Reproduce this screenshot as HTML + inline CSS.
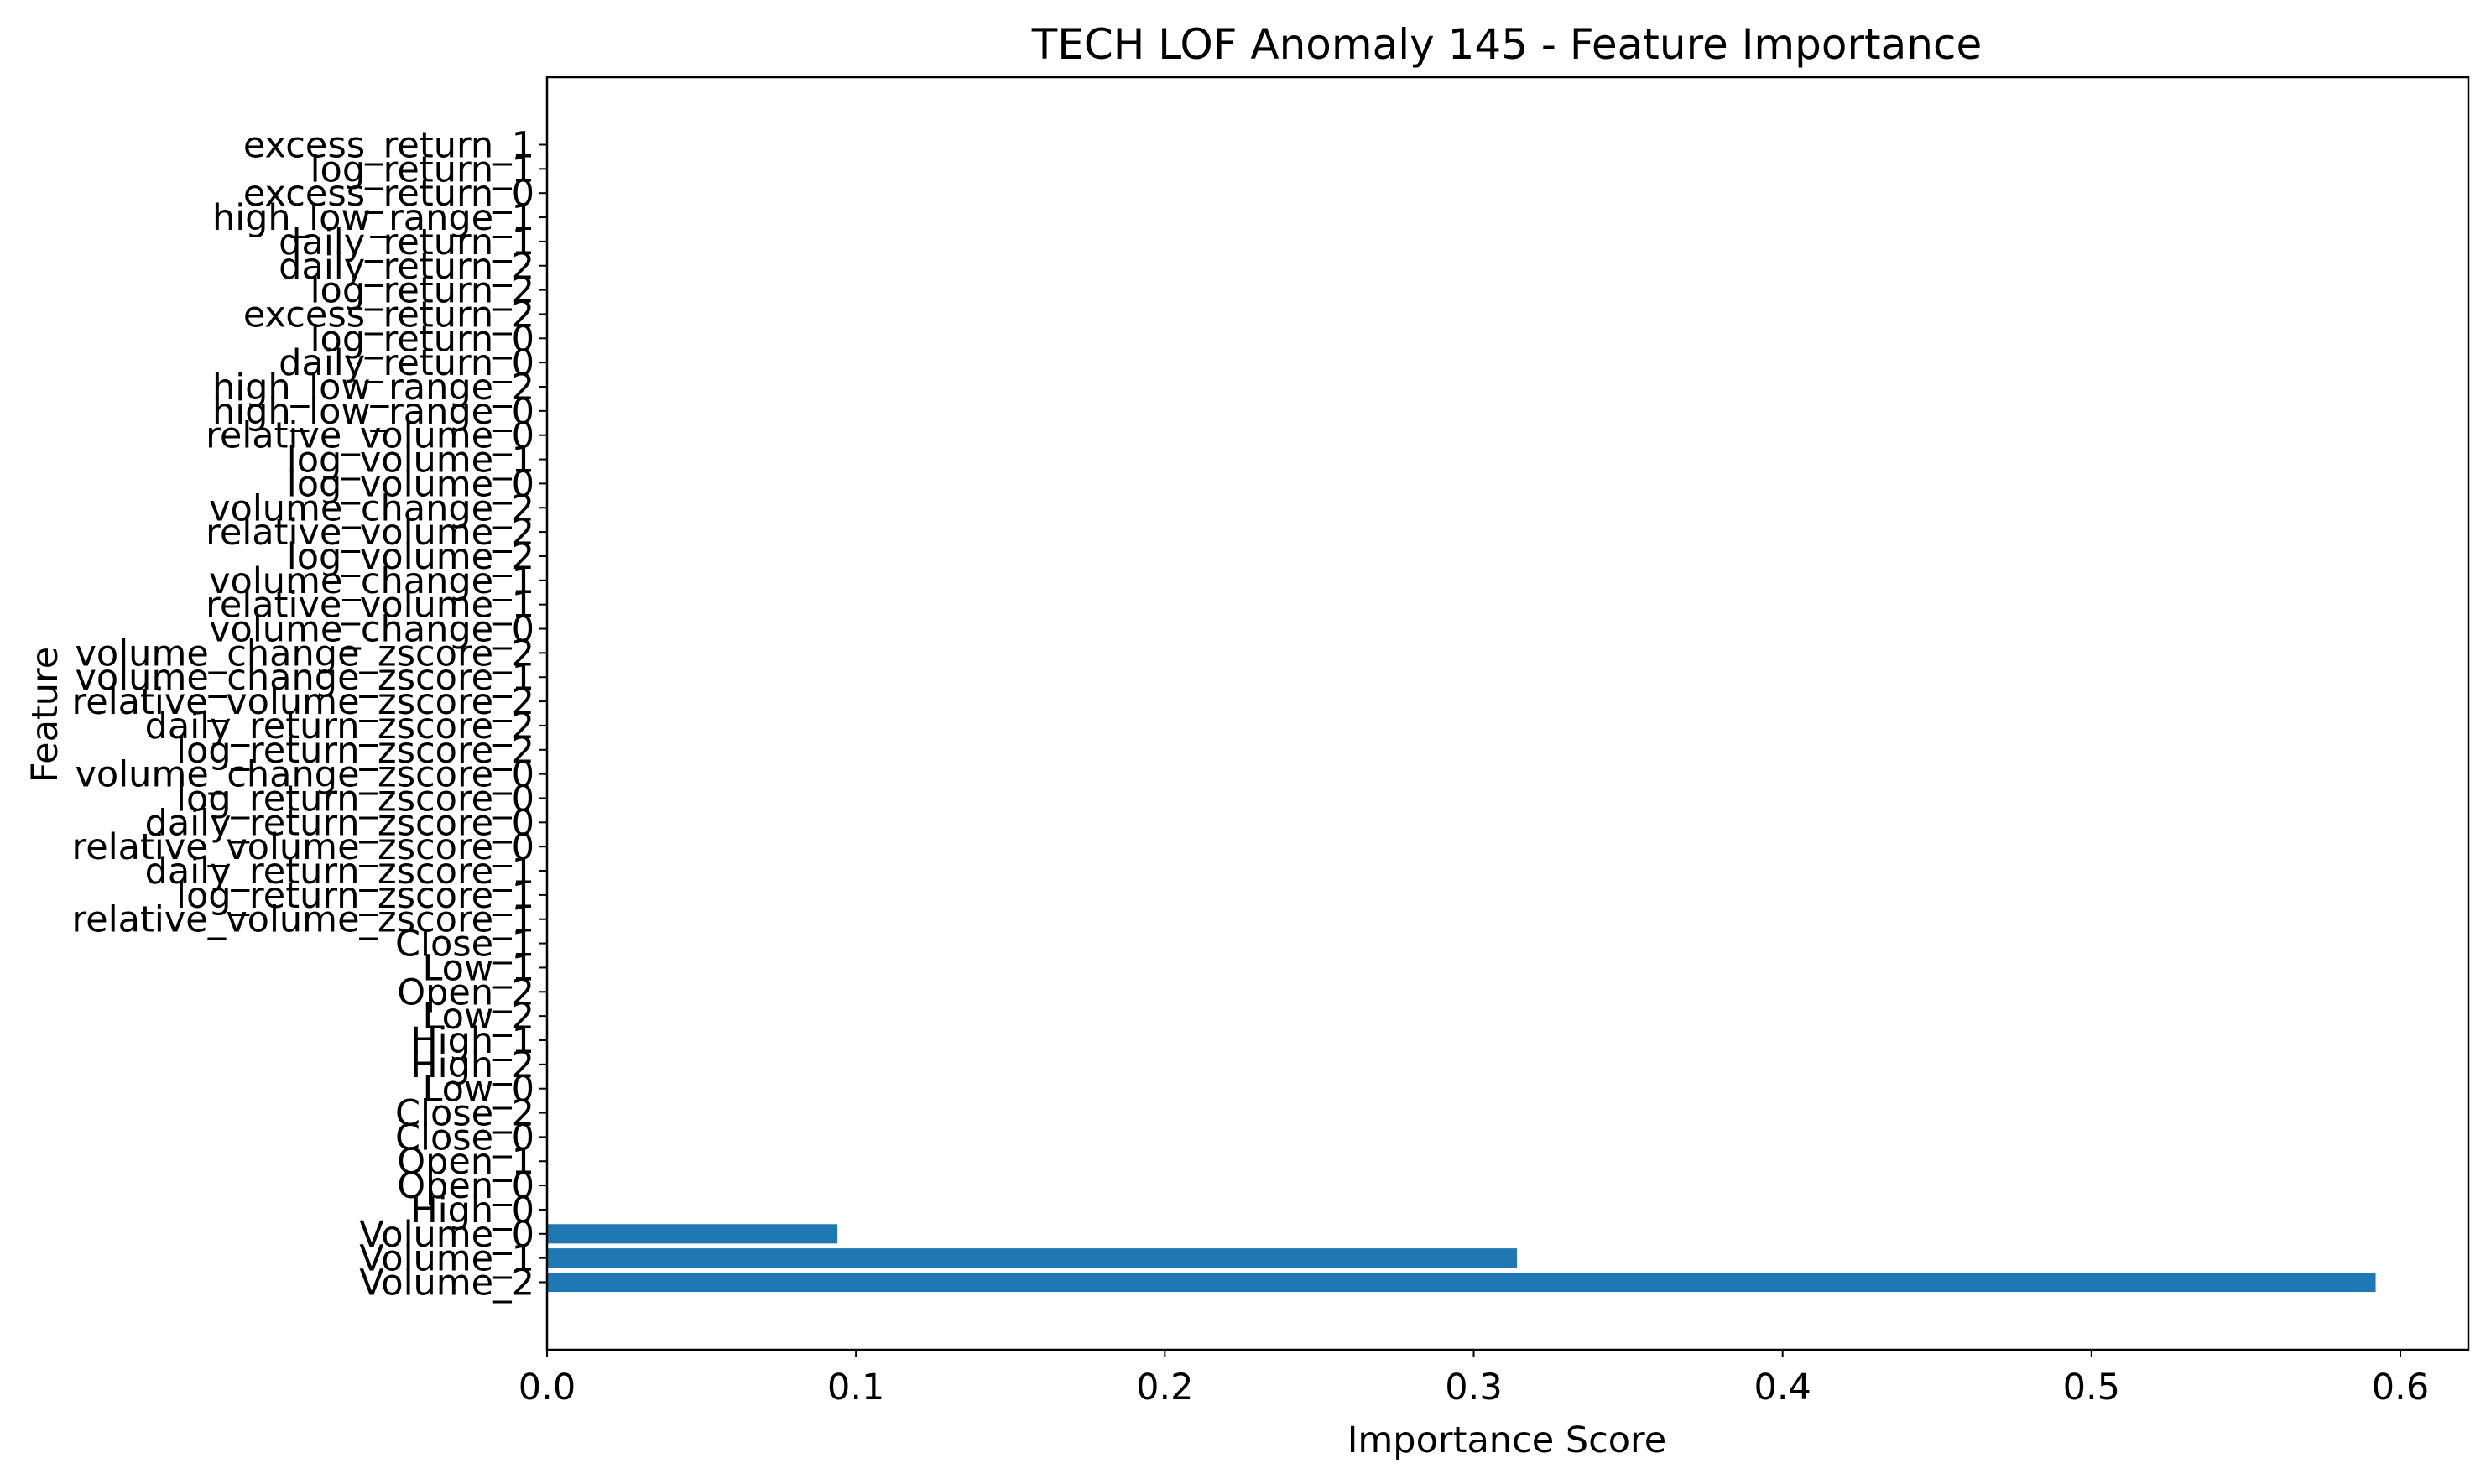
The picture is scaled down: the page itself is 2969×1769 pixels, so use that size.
<!DOCTYPE html>
<html><head><meta charset="utf-8"><style>
html,body{margin:0;padding:0;background:#fff;}
svg{display:block;font-family:"DejaVu Sans","Liberation Sans",sans-serif;}
</style></head><body>
<svg id="chart" width="2969" height="1769" viewBox="0 0 2969 1769">
<text x="1796" y="70" text-anchor="middle" font-size="50">TECH LOF Anomaly 145 - Feature Importance</text>
<text x="1796" y="1731" text-anchor="middle" font-size="43">Importance Score</text>
<text x="68" y="852" text-anchor="middle" font-size="43" transform="rotate(-90 68 852)">Feature</text>
<g id="bars"></g><g id="yticks"></g><g id="xticks"></g>
<rect x="652" y="92" width="2290" height="1517" fill="none" stroke="#000" stroke-width="2.5"/>
</svg>
<script>
const features = ["Volume_2","Volume_1","Volume_0","High_0","Open_0","Open_1","Close_0","Close_2","Low_0","High_2","High_1","Low_2","Open_2","Low_1","Close_1","relative_volume_zscore_1","log_return_zscore_1","daily_return_zscore_1","relative_volume_zscore_0","daily_return_zscore_0","log_return_zscore_0","volume_change_zscore_0","log_return_zscore_2","daily_return_zscore_2","relative_volume_zscore_2","volume_change_zscore_1","volume_change_zscore_2","volume_change_0","relative_volume_1","volume_change_1","log_volume_2","relative_volume_2","volume_change_2","log_volume_0","log_volume_1","relative_volume_0","high_low_range_0","high_low_range_2","daily_return_0","log_return_0","excess_return_2","log_return_2","daily_return_2","daily_return_1","high_low_range_1","excess_return_0","log_return_1","excess_return_1"];
const importance = [0.592,0.314,0.094,0,0,0,0,0,0,0,0,0,0,0,0,0,0,0,0,0,0,0,0,0,0,0,0,0,0,0,0,0,0,0,0,0,0,0,0,0,0,0,0,0,0,0,0,0];
const xTickValues = [0,0.1,0.2,0.3,0.4,0.5,0.6];
const xTickLabels = ["0.0","0.1","0.2","0.3","0.4","0.5","0.6"];
const NS="http://www.w3.org/2000/svg";
const L=652,R=2942,T=92,B=1609;
const n=features.length, xmax=0.622;
const ymin=-0.4-0.05*(n-0.2), ymax=n-0.6+0.05*(n-0.2);
function xs(v){return L+v/xmax*(R-L);}
function ys(v){return B-(v-ymin)/(ymax-ymin)*(B-T);}
const unit=(B-T)/(ymax-ymin);
const gb=document.getElementById('bars'),gy=document.getElementById('yticks'),gx=document.getElementById('xticks');
features.forEach((f,i)=>{
  const r=document.createElementNS(NS,'rect');
  r.setAttribute('x',xs(0));r.setAttribute('y',ys(i)-0.4*unit);
  r.setAttribute('width',xs(importance[i])-xs(0));r.setAttribute('height',0.8*unit);
  r.setAttribute('fill','#1f77b4');
  
  
  gb.appendChild(r);
  const t=document.createElementNS(NS,'line');
  t.setAttribute('x1',L-9);t.setAttribute('x2',L);t.setAttribute('y1',ys(i));t.setAttribute('y2',ys(i));
  t.setAttribute('stroke','#000');t.setAttribute('stroke-width','2');
  
  
  gy.appendChild(t);
  const tx=document.createElementNS(NS,'text');
  tx.setAttribute('x',L-15);tx.setAttribute('y',ys(i)+15);tx.setAttribute('text-anchor','end');tx.setAttribute('font-size','43');
  tx.textContent=f;
  
  
  gy.appendChild(tx);
});
xTickValues.forEach((v,i)=>{
  const t=document.createElementNS(NS,'line');
  t.setAttribute('x1',xs(v));t.setAttribute('x2',xs(v));t.setAttribute('y1',B);t.setAttribute('y2',B+9);
  t.setAttribute('stroke','#000');t.setAttribute('stroke-width','2');
  
  
  gx.appendChild(t);
  const tx=document.createElementNS(NS,'text');
  tx.setAttribute('x',xs(v));tx.setAttribute('y',1668);tx.setAttribute('text-anchor','middle');tx.setAttribute('font-size','43');
  tx.textContent=xTickLabels[i];
  
  
  gx.appendChild(tx);
});
</script>
</body></html>
